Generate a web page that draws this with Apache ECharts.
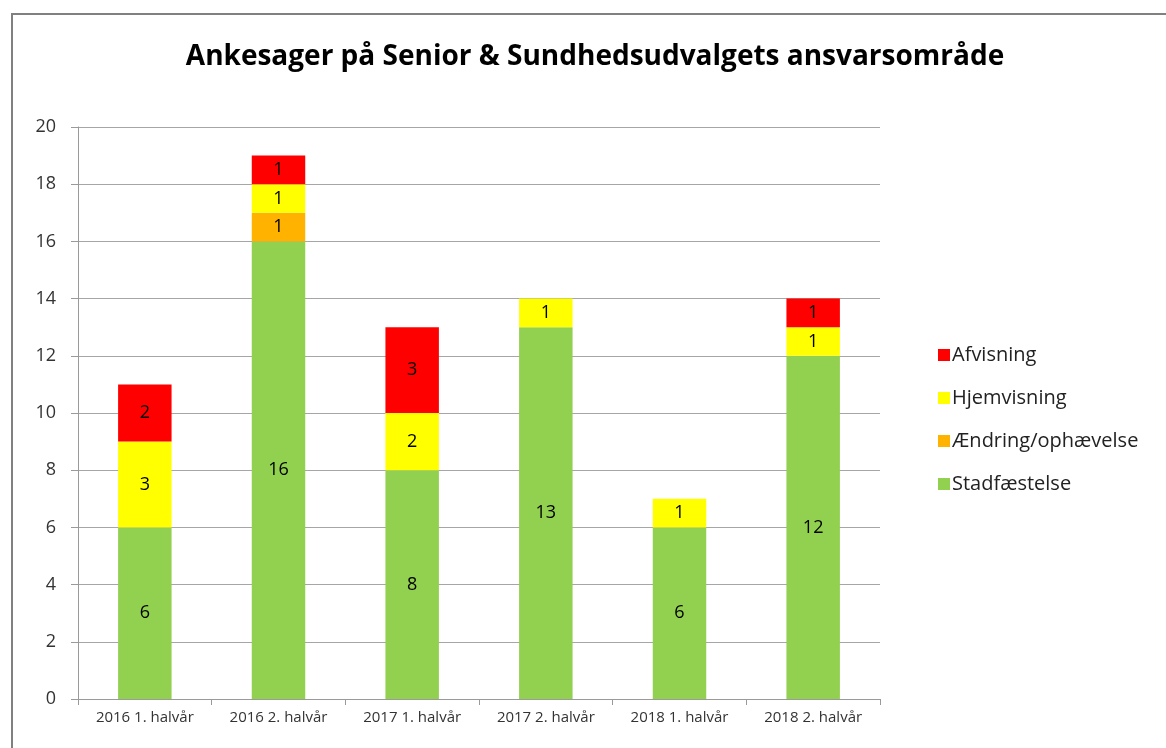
<!DOCTYPE html>
<html>
<head>
<meta charset="utf-8">
<script src="https://cdn.jsdelivr.net/npm/echarts@6/dist/echarts.min.js"></script>
<style>
html, body { margin: 0; padding: 0; background: #fff; }
#chart { width: 1166px; height: 748px; }
</style>
</head>
<body>
<div id="chart"></div>
<script>
var categories = ['2016 1. halvår', '2016 2. halvår', '2017 1. halvår', '2017 2. halvår', '2018 1. halvår', '2018 2. halvår'];
var stadfaestelse = [6, 16, 8, 13, 6, 12];
var aendring = [0, 1, 0, 0, 0, 0];
var hjemvisning = [3, 1, 2, 1, 1, 1];
var afvisning = [2, 1, 3, 0, 0, 1];
var yTicks = [0, 2, 4, 6, 8, 10, 12, 14, 16, 18, 20];

var font = '"Open Sans", "DejaVu Sans", sans-serif';

function barSeries(name, data, color) {
    return {
        name: name,
        type: 'bar',
        stack: 'total',
        barWidth: '40%',
        data: data.map(function (v) { return v === 0 ? null : v; }),
        itemStyle: { color: color },
        label: {
            show: true,
            position: 'inside',
            color: '#000',
            fontFamily: font,
            fontSize: 18
        }
    };
}

var app = echarts.init(document.getElementById('chart'));

var option = {
    animation: false,
    title: {
        text: 'Ankesager på Senior & Sundhedsudvalgets ansvarsområde',
        left: 590,
        textAlign: 'center',
        top: 38,
        textStyle: { fontFamily: font, fontWeight: 'bold', fontSize: 28, color: '#000' }
    },
    graphic: [{
        type: 'rect',
        shape: { x: 12, y: 14, width: 1200, height: 800 },
        style: { fill: 'none', stroke: '#808080', lineWidth: 2 },
        z: -1
    }],
    legend: {
        orient: 'vertical',
        left: 933,
        top: 340,
        itemWidth: 12,
        itemHeight: 12,
        itemGap: 23,
        icon: 'rect',
        data: ['Afvisning', 'Hjemvisning', 'Ændring/ophævelse', 'Stadfæstelse'],
        textStyle: { fontFamily: font, fontSize: 20, color: '#222', padding: [0, 0, 0, -3] }
    },
    grid: { left: 78, right: 286, top: 127, bottom: 49 },
    xAxis: {
        type: 'category',
        data: categories,
        axisLine: { lineStyle: { color: '#9a9a9a' } },
        axisTick: { show: true, length: 6, lineStyle: { color: '#9a9a9a' } },
        axisLabel: { interval: 0, fontFamily: font, fontSize: 15, color: '#333', margin: 11 }
    },
    yAxis: {
        type: 'value',
        min: yTicks[0],
        max: yTicks[yTicks.length - 1],
        interval: 2,
        axisLine: { show: true, lineStyle: { color: '#9a9a9a' } },
        axisTick: { show: true, length: 7, inside: false, lineStyle: { color: '#9a9a9a' } },
        splitLine: { lineStyle: { color: '#a6a6a6' } },
        axisLabel: { fontFamily: font, fontSize: 18, color: '#333', margin: 22 }
    },
    series: [
        barSeries('Stadfæstelse', stadfaestelse, '#92d050'),
        barSeries('Ændring/ophævelse', aendring, '#ffb300'),
        barSeries('Hjemvisning', hjemvisning, '#ffff00'),
        barSeries('Afvisning', afvisning, '#ff0000')
    ]
};

app.setOption(option);
</script>
</body>
</html>
